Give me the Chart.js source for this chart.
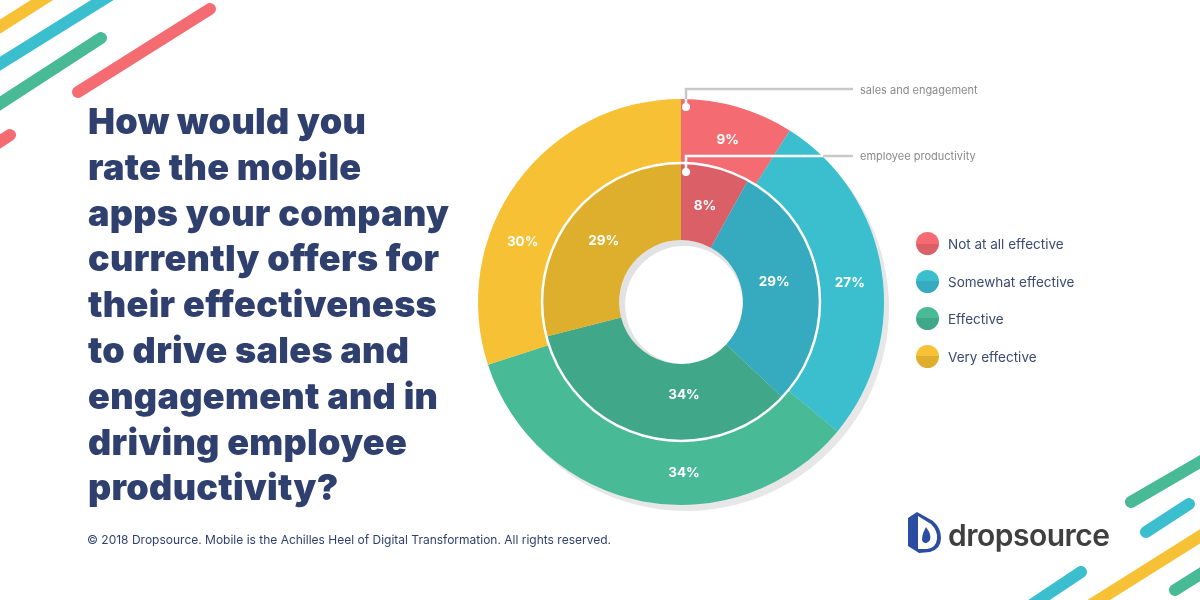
<!DOCTYPE html>
<html>
<head>
<meta charset="utf-8">
<script src="https://cdn.jsdelivr.net/npm/chart.js@4"></script>
<style>
  html, body { margin: 0; padding: 0; background: #fff; }
  #page { position: relative; width: 1200px; height: 600px; overflow: hidden; background: #fff; }
  #chart { position: absolute; left: 0; top: 0; }
  #deco { position: absolute; left: 0; top: 0; }
  #title {
    position: absolute; left: 88px; top: 99px; margin: 0;
    font: 900 36px/45.8px Inter, sans-serif; letter-spacing: 0.3px; color: #2f3f6e; white-space: nowrap;
  }
  #footer { position: absolute; left: 87px; top: 532px; font: 400 12px Inter, sans-serif; color: #2f3f6e; white-space: nowrap; }
  .callout { position: absolute; left: 860px; font: 400 11px Inter, sans-serif; color: #8a8a8a; white-space: nowrap; }
  #legend { position: absolute; left: 916px; top: 232px; }
  .item { position: relative; height: 37.7px; font: 400 13.5px/24px Inter, sans-serif; color: #3a4a72; white-space: nowrap; padding-left: 32px; }
  .swatch { position: absolute; left: 0; top: 0; width: 23px; height: 23px; border-radius: 50%; }
  #brand { position: absolute; left: 948px; top: 513px; font: 600 30px/44px Inter, sans-serif; letter-spacing: -0.5px; color: #3f3f3f; }
</style>
</head>
<body>
<div id="page">
  <canvas id="chart" width="1200" height="600"></canvas>
  <svg id="deco" width="1200" height="600" fill="none" stroke-linecap="round">
    <g stroke-width="12">
      <line x1="-10" y1="33" x2="50" y2="-5" stroke="#f7c136"/>
      <line x1="-10" y1="70" x2="112" y2="-6" stroke="#3bbfce"/>
      <line x1="-10" y1="110" x2="101" y2="38" stroke="#48ba95"/>
      <line x1="78" y1="92" x2="210" y2="9" stroke="#f56b72"/>
      <line x1="-10" y1="148" x2="10" y2="135" stroke="#f56b72"/>
      <line x1="1131" y1="502" x2="1210" y2="456" stroke="#48ba95"/>
      <line x1="1146" y1="532" x2="1189" y2="504" stroke="#3bbfce"/>
      <line x1="1086" y1="608" x2="1210" y2="530" stroke="#f7c136"/>
      <line x1="1030" y1="606" x2="1081" y2="572" stroke="#3bbfce"/>
      <line x1="1175" y1="590" x2="1210" y2="568" stroke="#48ba95"/>
    </g>
    <!-- callout leaders -->
    <path d="M686 99V89H853" stroke="#c9c9c9" stroke-width="2.5" stroke-linecap="butt"/>
    <path d="M686 107V99" stroke="#fff" stroke-width="2.5" stroke-linecap="butt"/>
    <path d="M686 172V156H823" stroke="#fff" stroke-width="2.5" stroke-linecap="butt"/>
    <path d="M823 156H853" stroke="#c9c9c9" stroke-width="2.5" stroke-linecap="butt"/>
    <circle cx="686" cy="107" r="4" fill="#fff"/>
    <circle cx="686" cy="172" r="4" fill="#fff"/>
    <!-- logo mark -->
    <path d="M908 518 L917 512 L933 521 Q941 528 941 538 Q941 549 930 552 L919 553 L908 546 Z" fill="#2a4da3"/>
    <path d="M918 516 L931 524 Q938 531 937 539 Q936 548 927 549 L918 549 Z" fill="#fff"/>
    <path d="M926 527 Q932 535 930 540 Q927 545 923 542 Q920 538 926 527 Z" fill="#2a4da3"/>
  </svg>
  <h1 id="title"></h1>
  <div class="callout" style="top:83px">sales and engagement</div>
  <div class="callout" style="top:149px">employee productivity</div>
  <div id="legend"></div>
  <div id="footer">© 2018 Dropsource. Mobile is the Achilles Heel of Digital Transformation. All rights reserved.</div>
  <div id="brand">dropsource</div>
</div>
<script>
const categories = ['Not at all effective', 'Somewhat effective', 'Effective', 'Very effective'];
const salesValues = [9, 27, 34, 30];
const productivityValues = [8, 29, 34, 29];
const outerColors = ['#f56b72', '#3bbfce', '#48ba95', '#f7c136'];
const innerColors = ['#db5f67', '#36abbf', '#40a888', '#deae2d'];
const titleLines = [
  'How would you', 'rate the mobile', 'apps your company', 'currently offers for',
  'their effectiveness', 'to drive sales and', 'engagement and in', 'driving employee', 'productivity?'
];

document.getElementById('title').innerHTML = titleLines.join('<br>');
document.getElementById('legend').innerHTML = categories.map((name, i) =>
  `<div class="item"><span class="swatch" style="background:linear-gradient(${outerColors[i]} 50%, ${innerColors[i]} 50%)"></span>${name}</div>`
).join('');

// drop shadow behind the rings, with a small crescent of it inside the hole
const ringShadow = {
  id: 'ringShadow',
  beforeDatasetsDraw(chart) {
    const arc = chart.getDatasetMeta(0).data[0];
    const hole = chart.getDatasetMeta(1).data[0].innerRadius;
    const c = chart.ctx;
    const disc = (x, y, r, color) => {
      c.fillStyle = color;
      c.beginPath();
      c.arc(x, y, r, 0, Math.PI * 2);
      c.fill();
    };
    c.save();
    disc(arc.x + 5, arc.y + 6, arc.outerRadius, '#e7e7e7');
    disc(arc.x, arc.y, hole, '#e2e2e4');
    disc(arc.x + 3, arc.y + 3, hole - 3, '#fff');
    c.restore();
  }
};

// labels in the source are hand placed, so nudge them off the slice centres
const labelShifts = [
  [[-1, 2], [0, 8], [35, 3], [-20, 40]],
  [[-1, 1], [-6, -4], [28, -4], [2, 0]]
];

// white line between the rings plus the percent labels
const ringLabels = {
  id: 'ringLabels',
  afterDatasetsDraw(chart) {
    const c = chart.ctx;
    const first = chart.getDatasetMeta(0).data[0];
    c.save();
    c.strokeStyle = '#fff';
    c.lineWidth = 2.5;
    c.beginPath();
    c.arc(first.x, first.y, first.innerRadius, 0, Math.PI * 2);
    c.stroke();
    c.fillStyle = '#fff';
    c.font = '700 13.5px Inter, sans-serif';
    c.textAlign = 'center';
    c.textBaseline = 'middle';
    chart.data.datasets.forEach((ds, d) => {
      chart.getDatasetMeta(d).data.forEach((el, i) => {
        const p = el.tooltipPosition();
        c.fillText(ds.data[i] + '%', p.x + labelShifts[d][i][0], p.y + labelShifts[d][i][1]);
      });
    });
    c.restore();
  }
};

new Chart(document.getElementById('chart').getContext('2d'), {
  type: 'doughnut',
  data: {
    labels: categories,
    datasets: [
      { label: 'sales and engagement', data: salesValues, backgroundColor: outerColors, borderWidth: 0, weight: 64 },
      { label: 'employee productivity', data: productivityValues, backgroundColor: innerColors, borderWidth: 0, weight: 77 }
    ]
  },
  options: {
    responsive: false,
    animation: false,
    cutout: '30.5%',
    layout: { padding: { left: 478, right: 316, top: 99, bottom: 95 } },
    plugins: { legend: { display: false }, tooltip: { enabled: false } }
  },
  plugins: [ringShadow, ringLabels]
});
</script>
</body>
</html>
